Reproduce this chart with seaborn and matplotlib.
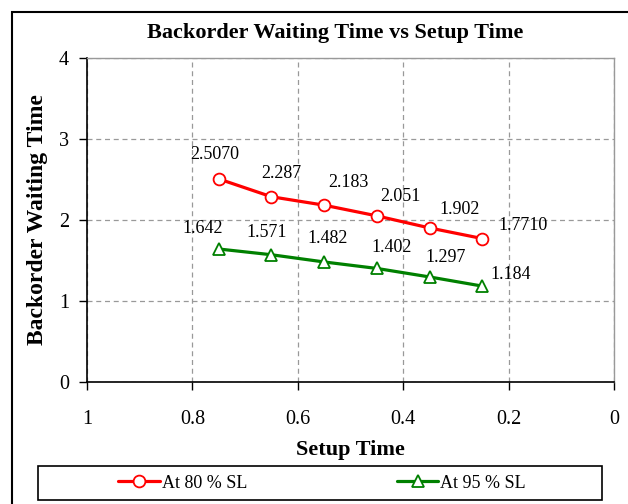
import matplotlib
matplotlib.use("Agg")
import matplotlib.pyplot as plt
import seaborn as sns
import pandas as pd
from matplotlib.patches import Rectangle
from matplotlib.lines import Line2D

setup_time = [0.75, 0.65, 0.55, 0.45, 0.35, 0.25]
sl80 = [2.5070, 2.287, 2.183, 2.051, 1.902, 1.7710]
sl95 = [1.642, 1.571, 1.482, 1.402, 1.297, 1.184]
labels80 = ["2.5070", "2.287", "2.183", "2.051", "1.902", "1.7710"]
labels95 = ["1.642", "1.571", "1.482", "1.402", "1.297", "1.184"]
series_names = ["At 80 % SL", "At 95 % SL"]
x_ticks = [1, 0.8, 0.6, 0.4, 0.2, 0]
x_ticklabels = ["1", "0.8", "0.6", "0.4", "0.2", "0"]
y_ticks = [0, 1, 2, 3, 4]

sns.set_style("white")
plt.rcParams['font.family'] = ['Liberation Serif', 'DejaVu Serif']
plt.rcParams['text.color'] = 'black'
plt.rcParams['axes.labelcolor'] = 'black'
plt.rcParams['xtick.color'] = 'black'
plt.rcParams['ytick.color'] = 'black'

df = pd.DataFrame({
    "Setup Time": setup_time * 2,
    "Backorder Waiting Time": sl80 + sl95,
    "Series": [series_names[0]] * len(sl80) + [series_names[1]] * len(sl95),
})

fig = plt.figure(figsize=(6.28, 5.04), dpi=100)
ax = fig.add_axes([87/628, 1 - 382/504, (614-87)/628, (382-58)/504])

colors = {series_names[0]: "#ff0000", series_names[1]: "#008000"}
markers = {series_names[0]: "o", series_names[1]: "^"}
sns.lineplot(data=df, x="Setup Time", y="Backorder Waiting Time", hue="Series",
             style="Series", markers=markers, dashes=False, palette=colors,
             linewidth=2.3, markersize=8.5, markerfacecolor="white",
             markeredgewidth=1.3, legend=False, ax=ax, zorder=3)
for line in ax.lines:
    line.set_markeredgecolor(line.get_color())

ax.set_xlim(1, 0)
ax.set_ylim(0, 4)
ax.set_xticks(x_ticks)
ax.set_xticklabels(x_ticklabels)
ax.set_yticks(y_ticks)
ax.tick_params(axis="both", direction="out", length=6, width=1, labelsize=14.5,
               colors="black", bottom=True, left=True)
ax.tick_params(axis="x", pad=14)
ax.tick_params(axis="y", pad=7)
ax.grid(True, linestyle=(0, (4, 3)), color="#999999", linewidth=0.9)
for s in ["top", "right"]:
    ax.spines[s].set_color("#999999")
    ax.spines[s].set_linewidth(1.0)
for s in ["left", "bottom"]:
    ax.spines[s].set_color("black")
    ax.spines[s].set_linewidth(1.2)

ax.set_xlabel("Setup Time", fontsize=16, fontweight="bold", labelpad=8)
ax.set_ylabel("Backorder Waiting Time", fontsize=17, fontweight="bold", labelpad=8)
fig.text(335/628, 1 - 33/504, "Backorder Waiting Time vs Setup Time",
         ha="center", va="center", fontsize=16, fontweight="bold")

off80 = [(-4, 24), (10, 23), (24, 23), (24, 19), (30, 18), (41, 13)]
off95 = [(-16, 20), (-5, 22), (3, 23), (15, 21), (16, 19), (28, 12)]
for xs, ys, labs, offs in [(setup_time, sl80, labels80, off80),
                           (setup_time, sl95, labels95, off95)]:
    for x, y, t, o in zip(xs, ys, labs, offs):
        ax.annotate(t, (x, y), xytext=o, textcoords="offset pixels",
                    ha="center", va="center", fontsize=13)

handles = [
    Line2D([], [], color=colors[n], marker=markers[n], markersize=8.5,
           markerfacecolor="white", markeredgecolor=colors[n],
           markeredgewidth=1.3, linewidth=2.3)
    for n in series_names
]
leg = fig.legend(handles, series_names, loc="center", ncol=2,
                 bbox_to_anchor=(322/628, 1 - 483/504),
                 frameon=False, fontsize=13,
                 handlelength=2.3, handletextpad=0.1, borderaxespad=0,
                 columnspacing=8.3)
fig.patches.append(Rectangle((38/628, 1 - 500/504), (602-38)/628, 34/504,
                             fill=False, edgecolor="black", linewidth=1.2,
                             transform=fig.transFigure, figure=fig))

fig.patches.append(Rectangle((12/628, -0.1), 2, 1.1 - 12/504, fill=False,
                             edgecolor="black", linewidth=1.5,
                             transform=fig.transFigure, figure=fig))

fig.savefig("out.png", dpi=100)
